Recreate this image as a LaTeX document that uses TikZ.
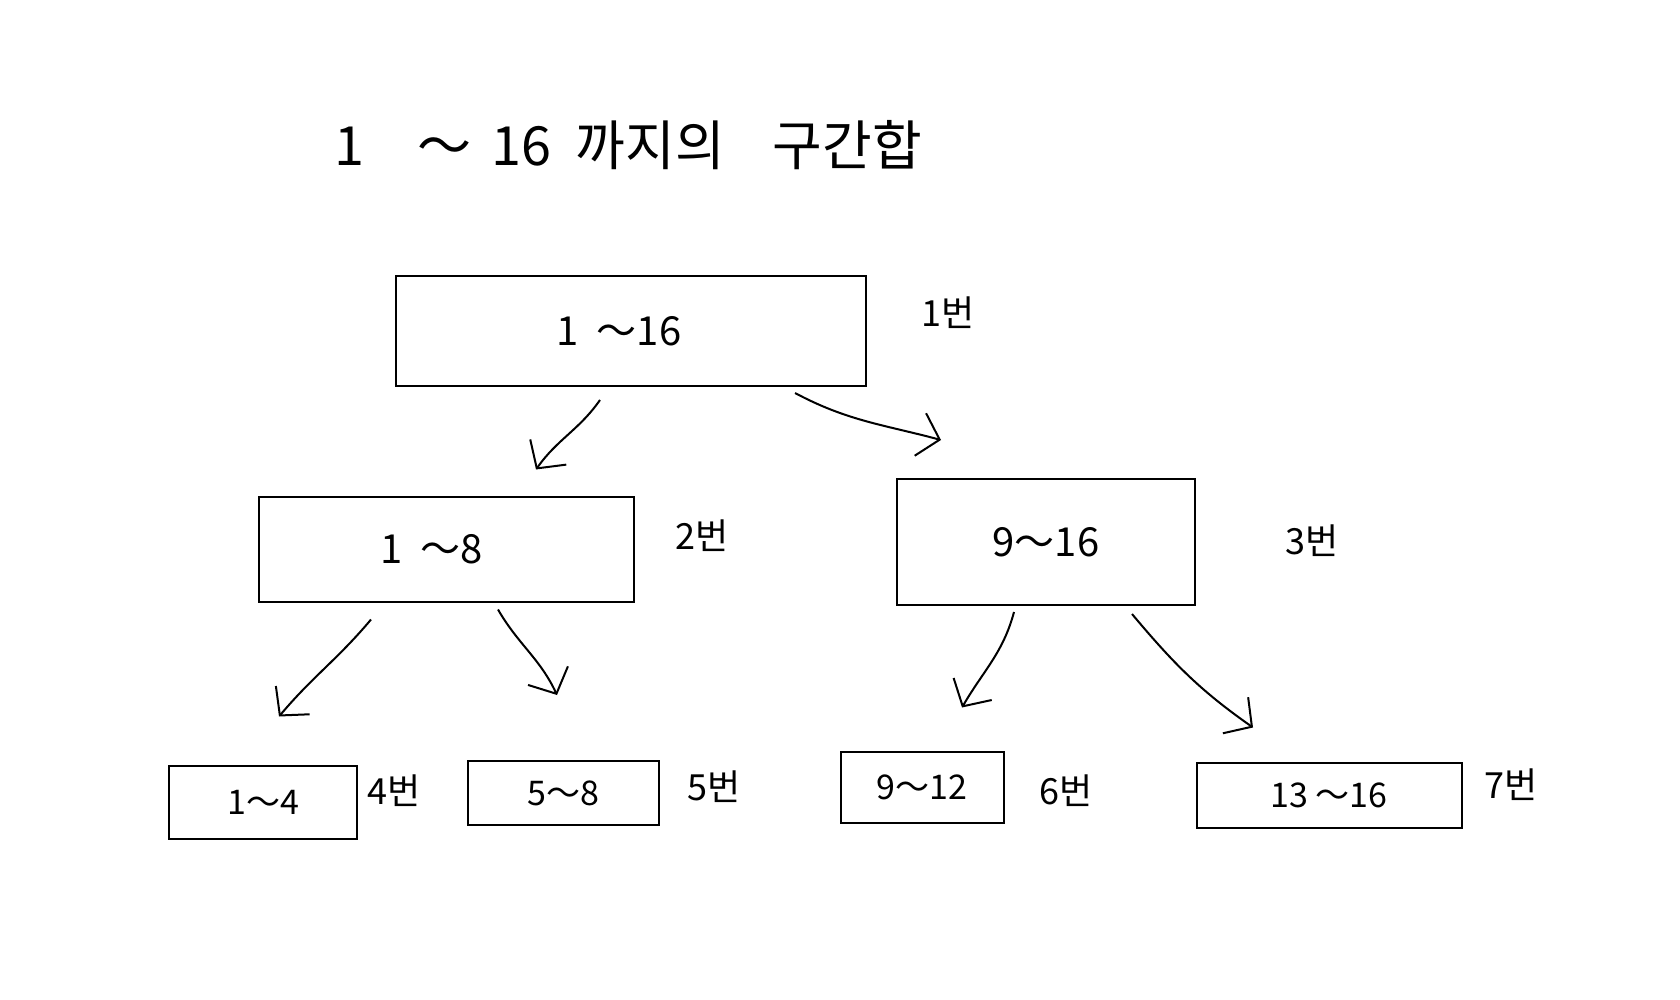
\documentclass[tikz,border=0pt]{standalone}
\usepackage{fontspec}
\setmainfont{Noto Sans CJK KR}
\usetikzlibrary{arrows.meta}
\begin{document}
\begin{tikzpicture}[x=0.5pt,y=0.5pt,
  box/.style={draw,line width=1pt,inner sep=0pt,font=\fontsize{20}{24}\selectfont},
  sbox/.style={box,font=\fontsize{17}{20}\selectfont},
  lbl/.style={font=\fontsize{18}{22}\selectfont},
  arr/.style={line width=1pt,-{Straight Barb[length=10pt,width=22pt,line width=1pt]}}]
\useasboundingbox (0,0) rectangle (1680,-1000);
\fill[white] (0,0) rectangle (1680,-1000);
\node[font=\fontsize{27}{32}\selectfont] (title) at (628,-145) {1\quad ～\hspace{10pt}16\hspace{12pt}까지의\hspace{24pt}구간합};
\node[box,minimum width=235pt,minimum height=55pt] (b1) at (631,-331) {\hspace*{-12pt}1\ \ ～16};
\node[box,minimum width=187.5pt,minimum height=52.5pt] (b2) at (446,-549) {\hspace*{-14pt}1\ \ ～8};
\node[box,minimum width=149pt,minimum height=63pt] (b3) at (1046,-542) {9～16};
\node[sbox,minimum width=94pt,minimum height=36.5pt] (b4) at (263,-802) {1～4};
\node[sbox,minimum width=95.5pt,minimum height=32pt] (b5) at (563,-793) {5～8};
\node[sbox,minimum width=81.5pt,minimum height=35.5pt] (b6) at (922,-787) {9～12};
\node[sbox,minimum width=132.5pt,minimum height=32.5pt] (b7) at (1329,-795) {13\ ～16};
\node[lbl] (l1) at (948,-313) {1번};
\node[lbl] (l2) at (702,-536) {2번};
\node[lbl] (l3) at (1312,-541) {3번};
\node[lbl] (l4) at (394,-791) {4번};
\node[lbl] (l5) at (714,-787) {5번};
\node[lbl] (l6) at (1066,-791) {6번};
\node[lbl] (l7) at (1511,-785) {7번};
\draw[arr] ([xshift=-15.5pt,yshift=-6.5pt]b1.south) to[out=-125,in=55] ([xshift=45pt,yshift=13pt]b2.north);
\draw[arr] ([xshift=82pt,yshift=-3pt]b1.south) to[out=-28,in=165] ([xshift=-52.5pt,yshift=19pt]b3.north);
\draw[arr] ([xshift=-37.5pt,yshift=-8.5pt]b2.south) to[out=-130,in=50] ([xshift=8pt,yshift=24pt]b4.north);
\draw[arr] ([xshift=26pt,yshift=-3.5pt]b2.south) to[out=-60,in=115] ([xshift=-3pt,yshift=32.5pt]b5.north);
\draw[arr] ([xshift=-16pt,yshift=-3pt]b3.south) to[out=-105,in=60] ([xshift=20pt,yshift=21.5pt]b6.north);
\draw[arr] ([xshift=43pt,yshift=-4pt]b3.south) to[out=-50,in=145] ([xshift=-38pt,yshift=17pt]b7.north);
\end{tikzpicture}
\end{document}
